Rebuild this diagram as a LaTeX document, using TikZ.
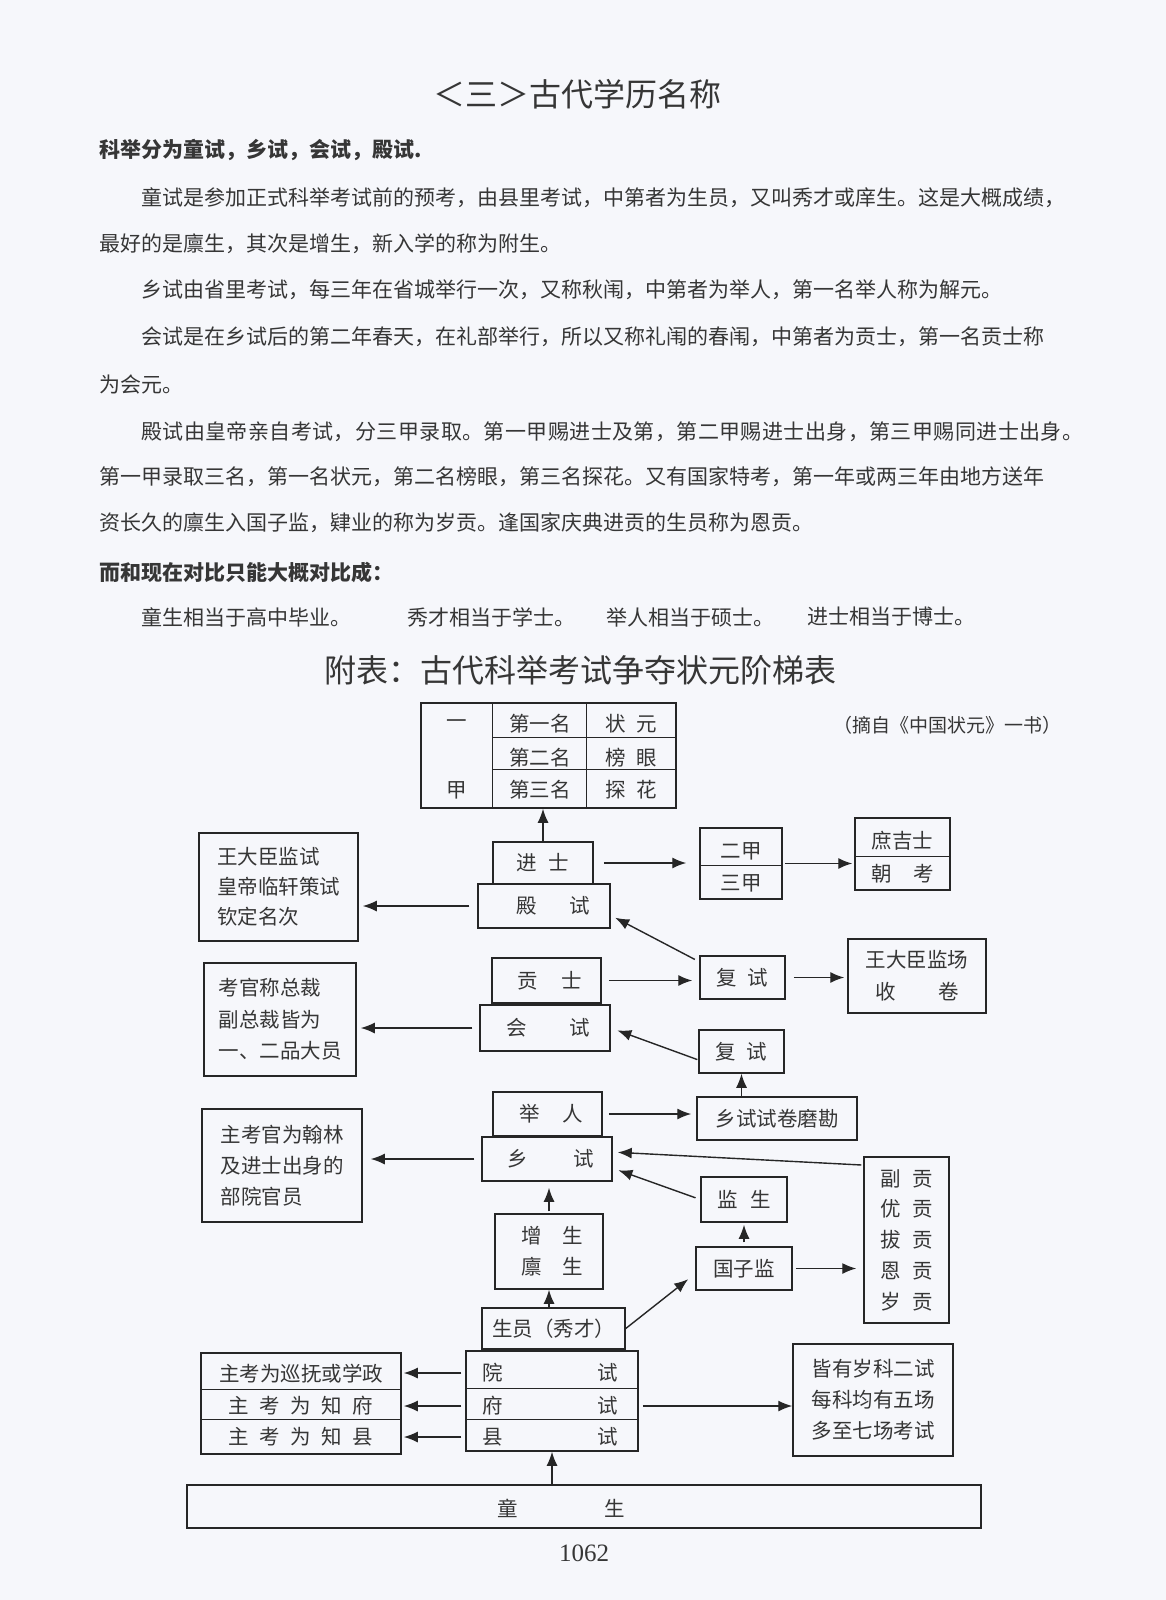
\documentclass[tikz,border=0pt]{standalone}
\usepackage{fontspec}
\setmainfont{Noto Sans CJK SC}
\newfontfamily\numfont{Liberation Serif}
\usetikzlibrary{arrows.meta,positioning,calc}
\definecolor{ink}{HTML}{363636}
\definecolor{ln}{HTML}{262626}
\definecolor{pg}{HTML}{F6F7FB}
\newcommand{\bodysize}{\fontsize{21pt}{21pt}\selectfont}
\newcommand{\dgsize}[1]{\fontsize{20.5pt}{#1pt}\selectfont}

\begin{document}
\begin{tikzpicture}[x=1pt,y=-1pt,
   bx/.style={draw=ln,line width=1.5pt,inner sep=0pt,font=\dgsize{30},text=ink},
   txt/.style={inner sep=0pt,font=\dgsize{30},text=ink},
   body/.style={inner sep=0pt,anchor=west,font=\bodysize,text=ink},
   dv/.style={draw=ln,line width=1.5pt},
   arr/.style={draw=ln,line width=1.4pt,-{Latex[length=14pt,width=11pt]}}]
  \fill[pg] (0,0) rectangle (1166,1600);
  \useasboundingbox (0,0) rectangle (1166,1600);

  % page text
  \node[inner sep=0pt,font=\fontsize{32pt}{32pt}\selectfont,text=ink] (title) at (577,94) {＜三＞古代学历名称};
  \node[body,font=\bodysize\bfseries] (l1) at (99,150) {科举分为童试，乡试，会试，殿试.};
  \node[body] (l2) at (141,198) {童试是参加正式科举考试前的预考，由县里考试，中第者为生员，又叫秀才或庠生。这是大概成绩，};
  \node[body] (l3) at (99,244) {最好的是廪生，其次是增生，新入学的称为附生。};
  \node[body] (l4) at (141,290) {乡试由省里考试，每三年在省城举行一次，又称秋闱，中第者为举人，第一名举人称为解元。};
  \node[body] (l5) at (141,337) {会试是在乡试后的第二年春天，在礼部举行，所以又称礼闱的春闱，中第者为贡士，第一名贡士称};
  \node[body] (l6) at (99,385) {为会元。};
  \node[body] (l7) at (141,432) {\addfontfeature{LetterSpace=2.0}殿试由皇帝亲自考试，分三甲录取。第一甲赐进士及第，第二甲赐进士出身，第三甲赐同进士出身。};
  \node[body] (l8) at (99,477) {第一甲录取三名，第一名状元，第二名榜眼，第三名探花。又有国家特考，第一年或两三年由地方送年};
  \node[body] (l9) at (99,523) {资长久的廪生入国子监，肄业的称为岁贡。逢国家庆典进贡的生员称为恩贡。};
  \node[body,font=\bodysize\bfseries] (l10) at (99,572) {而和现在对比只能大概对比成：};
  \node[body] (cmpA) at (141,617) {童生相当于高中毕业。};
  \node[body] (cmpB) at (407,617) {秀才相当于学士。};
  \node[body] (cmpC) at (606,617) {举人相当于硕士。};
  \node[body] (cmpD) at (807,617) {进士相当于博士。};
  \node[inner sep=0pt,font=\fontsize{32pt}{32pt}\selectfont,text=ink] (chart) at (580,670) {附表：古代科举考试争夺状元阶梯表};
  \node[inner sep=0pt,font=\fontsize{19pt}{19pt}\selectfont,text=ink] (source) at (947,725) {（摘自《中国状元》一书）};

  % top table
  \node[bx,minimum width=255pt,minimum height=105pt] (tbl) at (548.5,755.5) {};
  \draw[dv] ($(tbl.north west)+(72,0)$) -- ($(tbl.south west)+(72,0)$);
  \draw[dv] ($(tbl.north west)+(166,0)$) -- ($(tbl.south west)+(166,0)$);
  \draw[dv] ($(tbl.north west)+(72,35)$) -- ($(tbl.north east)+(0,35)$);
  \draw[dv] ($(tbl.north west)+(72,67)$) -- ($(tbl.north east)+(0,67)$);
  \node[txt] (jiaA) at (457,724) {一};
  \node[txt] (jiaB) at (457,790) {甲};
  \node[txt] (mingA) at (540,724) {第一名};
  \node[txt] (mingB) at (540,758) {第二名};
  \node[txt] (mingC) at (540,790) {第三名};
  \node[txt] (chA) at (631.5,724) {状\hspace{10.5pt}元};
  \node[txt] (chB) at (631.5,758) {榜\hspace{10.5pt}眼};
  \node[txt] (chC) at (631.5,790) {探\hspace{10.5pt}花};

  % palace exam
  \node[bx,minimum width=100pt,minimum height=42pt] (jinshi) at (543,863) {进\hspace{11.5pt}士};
  \node[bx,minimum width=132pt,minimum height=44pt] (dianshi) at (544,906) {\hspace*{19pt}殿\hspace{33pt}试};
  \node[bx,minimum width=159pt,minimum height=108pt,align=left] (wdc) at (278.5,887) {王大臣监试\\皇帝临轩策试\\钦定名次};
  \node[bx,minimum width=82pt,minimum height=71pt] (erjia) at (741,863.5) {};
  \draw[dv] ($(erjia.north west)+(0,38)$) -- ($(erjia.north east)+(0,38)$);
  \node[txt] (erjiaA) at (741,851) {二甲};
  \node[txt] (erjiaB) at (741,883) {三甲};
  \node[bx,minimum width=95pt,minimum height=72pt] (shuji) at (902.5,854) {};
  \draw[dv] ($(shuji.north west)+(0,39)$) -- ($(shuji.north east)+(0,39)$);
  \node[txt] (shujiA) at (902.5,841) {庶吉士};
  \node[txt] (shujiB) at (902.5,874) {朝\hspace{21pt}考};
  \node[bx,minimum width=85pt,minimum height=43pt] (fushi1) at (742.5,977.5) {复\hspace{11pt}试};
  \node[bx,minimum width=138pt,minimum height=74pt,align=center,font=\dgsize{32}] (wdcjc) at (917,976) {王大臣监场\\收\hspace{43pt}卷};

  % metropolitan exam
  \node[bx,minimum width=109pt,minimum height=45pt] (gongshi) at (546.5,980.5) {\hspace*{7pt}贡\hspace{24pt}士};
  \node[bx,minimum width=130pt,minimum height=46pt] (huishi) at (545,1028) {\hspace*{7pt}会\hspace{43pt}试};
  \node[bx,minimum width=152pt,minimum height=113pt,align=left,font=\dgsize{31.5}] (kgz) at (280,1019.5) {考官称总裁\\副总裁皆为\\一、二品大员};
  \node[bx,minimum width=85pt,minimum height=43pt] (fushi2) at (741.5,1051.5) {复\hspace{11pt}试};

  % provincial exam
  \node[bx,minimum width=109pt,minimum height=44pt] (juren) at (547.5,1114) {\hspace*{7pt}举\hspace{22pt}人};
  \node[bx,minimum width=130pt,minimum height=44pt] (xiangshi) at (547,1159) {\hspace*{7pt}乡\hspace{45pt}试};
  \node[bx,minimum width=160pt,minimum height=113pt,align=left,font=\dgsize{31}] (zkg) at (282,1165.5) {主考官为翰林\\及进士出身的\\部院官员};
  \node[bx,minimum width=160pt,minimum height=43pt] (mokan) at (777,1118.5) {乡试试卷磨勘};
  \node[bx,minimum width=86pt,minimum height=45pt] (jiansheng) at (744,1199.5) {监\hspace{13pt}生};
  \node[bx,minimum width=96pt,minimum height=43pt] (guozijian) at (744,1268.5) {国子监};
  \node[bx,minimum width=85pt,minimum height=166pt,align=center,font=\dgsize{30.75}] (gong) at (906.5,1240)
     {副\hspace{11.5pt}贡\\优\hspace{11.5pt}贡\\拔\hspace{11.5pt}贡\\恩\hspace{11.5pt}贡\\岁\hspace{11.5pt}贡};
  \node[bx,minimum width=108pt,minimum height=75pt,align=center,font=\dgsize{31}] (zengsheng) at (549,1251.5)
     {\hspace*{7pt}增\hspace{21pt}生\\\hspace*{7pt}廪\hspace{21pt}生};

  % entry exams
  \node[bx,minimum width=143pt,minimum height=41pt] (shengyuan) at (553.5,1328.5) {生员（秀才）};
  \node[bx,minimum width=172pt,minimum height=100pt] (yuan) at (552,1401) {};
  \draw[dv] ($(yuan.north west)+(0,38)$) -- ($(yuan.north east)+(0,38)$);
  \draw[dv] ($(yuan.north west)+(0,69)$) -- ($(yuan.north east)+(0,69)$);
  \node[txt] (yuanA) at (550,1373) {院\hspace{95pt}试};
  \node[txt] (yuanB) at (550,1406) {府\hspace{95pt}试};
  \node[txt] (yuanC) at (550,1437) {县\hspace{95pt}试};
  \node[bx,minimum width=200pt,minimum height=101pt] (zk) at (301,1403.5) {};
  \draw[dv] ($(zk.north west)+(0,37)$) -- ($(zk.north east)+(0,37)$);
  \draw[dv] ($(zk.north west)+(0,67)$) -- ($(zk.north east)+(0,67)$);
  \node[txt] (zkA) at (301,1374) {主考为巡抚或学政};
  \node[txt] (zkB) at (301,1406) {主\hspace{10.5pt}考\hspace{10.5pt}为\hspace{10.5pt}知\hspace{10.5pt}府};
  \node[txt] (zkC) at (301,1437) {主\hspace{10.5pt}考\hspace{10.5pt}为\hspace{10.5pt}知\hspace{10.5pt}县};
  \node[bx,minimum width=160pt,minimum height=112pt,align=center,font=\dgsize{31}] (jieyou) at (873,1400) {皆有岁科二试\\每科均有五场\\多至七场考试};
  \node[bx,minimum width=794pt,minimum height=43pt] (tongsheng) at (584,1506.5) {};
  \node[txt] (tongText) at (561.5,1508) {童\hspace{86.5pt}生};
  \node[inner sep=0pt,font=\numfont\fontsize{25pt}{25pt}\selectfont,text=ink] (pagenum) at (584,1553) {1062};

  % connectors
  \draw[arr] (jinshi.north) -- (tbl.south -| jinshi.north);
  \draw[arr,shorten <=8pt,shorten >=4pt] (dianshi.west) -- (dianshi.west -| wdc.east);
  \draw[arr,shorten <=10pt,shorten >=13pt] (jinshi.east) -- (jinshi.east -| erjia.west);
  \draw[arr,shorten <=2pt,shorten >=2pt] (erjia.east) -- (erjia.east -| shuji.west);
  \draw[arr,shorten <=5pt,shorten >=5pt] (fushi1.160) -- (dianshi.-8);
  \draw[arr,shorten <=7pt,shorten >=7pt] (gongshi.east) -- (gongshi.east -| fushi1.west);
  \draw[arr,shorten <=8pt,shorten >=3pt] (fushi1.east) -- (fushi1.east -| wdcjc.west);
  \draw[arr,shorten <=1pt,shorten >=7pt] (fushi2.-169) -- (huishi.east);
  \draw[arr,shorten <=7pt,shorten >=4pt] (huishi.west) -- (huishi.west -| kgz.east);
  \draw[arr,shorten <=6pt,shorten >=5pt] (juren.east) -- (juren.east -| mokan.west);
  \draw[arr,shorten <=7pt,shorten >=8pt] (xiangshi.west) -- (xiangshi.west -| zkg.east);
  \draw[arr] (fushi2 |- mokan.north) -- (fushi2.south);
  \draw[arr,shorten <=2pt,shorten >=5pt] (gong.120) -- (xiangshi.6);
  \draw[arr,shorten <=5pt,shorten >=6pt] (jiansheng.west) -- (xiangshi.-8);
  \draw[arr,shorten <=4pt,shorten >=2pt] (guozijian.north) -- (jiansheng.south);
  \draw[arr,shorten <=3pt,shorten >=7pt] (guozijian.east) -- (guozijian.east -| gong.west);
  \draw[arr,shorten <=2pt,shorten >=6pt] (zengsheng.north) -- (xiangshi.south -| zengsheng.north);
  \draw[arr] (zengsheng |- shengyuan.north) -- (zengsheng.south);
  \draw[arr,shorten >=9pt] (shengyuan.east) -- (guozijian.-174);
  \foreach \r in {A,B,C}
    \draw[arr,shorten <=4pt,shorten >=2pt] (yuan.west |- yuan\r) -- (zk.east |- yuan\r);
  \draw[arr,shorten <=4pt] (yuan.east |- yuanB) -- (jieyou.west |- yuanB);
  \draw[arr] (yuan |- tongsheng.north) -- (yuan.south);
\end{tikzpicture}
\end{document}
